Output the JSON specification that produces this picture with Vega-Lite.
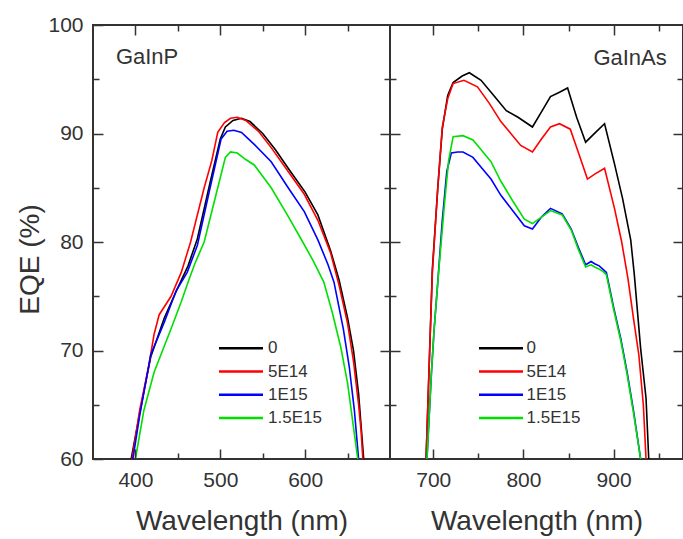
{
  "$schema": "https://vega.github.io/schema/vega-lite/v6.json",
  "background": "white",
  "padding": {"left": 15, "top": 13, "right": 1, "bottom": 5},
  "spacing": 0,
  "bounds": "flush",
  "config": {
    "font": "Liberation Sans",
    "view": {"stroke": "#333", "strokeWidth": 2},
    "axis": {
      "labelColor": "#333", "titleColor": "#333", "labelFont": "Liberation Sans", "titleFont": "Liberation Sans",
      "labelFontSize": 21, "titleFontSize": 28, "titleFontWeight": "normal",
      "labelOverlap": false, "labelFlush": false
    },
    "text": {"font": "Liberation Sans"}
  },
  "datasets": {
    "gainp": [
      {"w":395,"e":60,"d":"0"},{"w":405,"e":64.2,"d":"0"},{"w":418,"e":69.4,"d":"0"},{"w":434,"e":73,"d":"0"},{"w":450,"e":75.8,"d":"0"},{"w":462,"e":77.8,"d":"0"},{"w":473,"e":80.3,"d":"0"},{"w":488,"e":85.5,"d":"0"},{"w":500,"e":89.5,"d":"0"},{"w":506,"e":90.6,"d":"0"},{"w":515,"e":91.2,"d":"0"},{"w":525,"e":91.4,"d":"0"},{"w":535,"e":91.1,"d":"0"},{"w":550,"e":90,"d":"0"},{"w":565,"e":88.5,"d":"0"},{"w":580,"e":86.8,"d":"0"},{"w":600,"e":84.6,"d":"0"},{"w":615,"e":82.5,"d":"0"},{"w":630,"e":79.2,"d":"0"},{"w":640,"e":76.5,"d":"0"},{"w":650,"e":73,"d":"0"},{"w":657,"e":70,"d":"0"},{"w":663,"e":66,"d":"0"},{"w":667,"e":62,"d":"0"},{"w":669,"e":60,"d":"0"},
      {"w":396,"e":60,"d":"5E14"},{"w":405,"e":64.5,"d":"5E14"},{"w":416,"e":68.7,"d":"5E14"},{"w":422,"e":71.5,"d":"5E14"},{"w":428,"e":73.3,"d":"5E14"},{"w":442,"e":75,"d":"5E14"},{"w":454,"e":77.2,"d":"5E14"},{"w":465,"e":80,"d":"5E14"},{"w":481,"e":85,"d":"5E14"},{"w":490,"e":87.5,"d":"5E14"},{"w":497,"e":90.1,"d":"5E14"},{"w":505,"e":91,"d":"5E14"},{"w":512,"e":91.4,"d":"5E14"},{"w":520,"e":91.5,"d":"5E14"},{"w":530,"e":91.2,"d":"5E14"},{"w":545,"e":90.2,"d":"5E14"},{"w":560,"e":88.7,"d":"5E14"},{"w":580,"e":86.5,"d":"5E14"},{"w":599,"e":84.4,"d":"5E14"},{"w":615,"e":82,"d":"5E14"},{"w":630,"e":79,"d":"5E14"},{"w":640,"e":76,"d":"5E14"},{"w":650,"e":72.5,"d":"5E14"},{"w":657,"e":69,"d":"5E14"},{"w":663,"e":65,"d":"5E14"},{"w":666,"e":62.5,"d":"5E14"},{"w":668,"e":60,"d":"5E14"},
      {"w":397,"e":60,"d":"1E15"},{"w":405,"e":64,"d":"1E15"},{"w":418,"e":69.6,"d":"1E15"},{"w":434,"e":72.6,"d":"1E15"},{"w":448,"e":75.5,"d":"1E15"},{"w":461,"e":77.2,"d":"1E15"},{"w":473,"e":79.7,"d":"1E15"},{"w":488,"e":85,"d":"1E15"},{"w":501,"e":89.5,"d":"1E15"},{"w":508,"e":90.2,"d":"1E15"},{"w":516,"e":90.3,"d":"1E15"},{"w":525,"e":90.1,"d":"1E15"},{"w":540,"e":89,"d":"1E15"},{"w":560,"e":87.4,"d":"1E15"},{"w":580,"e":85,"d":"1E15"},{"w":599,"e":82.8,"d":"1E15"},{"w":615,"e":80.2,"d":"1E15"},{"w":627,"e":77.9,"d":"1E15"},{"w":634,"e":76.3,"d":"1E15"},{"w":645,"e":72,"d":"1E15"},{"w":652,"e":68.5,"d":"1E15"},{"w":658,"e":64.5,"d":"1E15"},{"w":663,"e":60,"d":"1E15"},
      {"w":400,"e":60,"d":"1.5E15"},{"w":410,"e":64.5,"d":"1.5E15"},{"w":422,"e":68,"d":"1.5E15"},{"w":442,"e":72,"d":"1.5E15"},{"w":454,"e":74.5,"d":"1.5E15"},{"w":462,"e":76.3,"d":"1.5E15"},{"w":470,"e":78,"d":"1.5E15"},{"w":481,"e":80,"d":"1.5E15"},{"w":497,"e":85,"d":"1.5E15"},{"w":506,"e":87.8,"d":"1.5E15"},{"w":512,"e":88.3,"d":"1.5E15"},{"w":520,"e":88.2,"d":"1.5E15"},{"w":530,"e":87.6,"d":"1.5E15"},{"w":540,"e":87.1,"d":"1.5E15"},{"w":560,"e":85,"d":"1.5E15"},{"w":579,"e":82.5,"d":"1.5E15"},{"w":595,"e":80.3,"d":"1.5E15"},{"w":610,"e":78.2,"d":"1.5E15"},{"w":622,"e":76.3,"d":"1.5E15"},{"w":632,"e":73.5,"d":"1.5E15"},{"w":642,"e":70.3,"d":"1.5E15"},{"w":650,"e":67,"d":"1.5E15"},{"w":656,"e":63.5,"d":"1.5E15"},{"w":662,"e":60,"d":"1.5E15"}
    ],
    "gainas": [
      {"w":692,"e":60,"d":"0"},{"w":696,"e":70,"d":"0"},{"w":699,"e":77.5,"d":"0"},{"w":705,"e":85,"d":"0"},{"w":710,"e":90.4,"d":"0"},{"w":716,"e":93.5,"d":"0"},{"w":722,"e":94.7,"d":"0"},{"w":732,"e":95.3,"d":"0"},{"w":740,"e":95.6,"d":"0"},{"w":753,"e":94.9,"d":"0"},{"w":768,"e":93.4,"d":"0"},{"w":781,"e":92.1,"d":"0"},{"w":794,"e":91.5,"d":"0"},{"w":810,"e":90.6,"d":"0"},{"w":820,"e":92,"d":"0"},{"w":830,"e":93.4,"d":"0"},{"w":840,"e":93.8,"d":"0"},{"w":849,"e":94.2,"d":"0"},{"w":859,"e":91.5,"d":"0"},{"w":869,"e":89.2,"d":"0"},{"w":880,"e":90.1,"d":"0"},{"w":890,"e":90.9,"d":"0"},{"w":901,"e":87.2,"d":"0"},{"w":910,"e":84,"d":"0"},{"w":919,"e":80.2,"d":"0"},{"w":923,"e":77,"d":"0"},{"w":930,"e":70.2,"d":"0"},{"w":936,"e":65.6,"d":"0"},{"w":939,"e":60,"d":"0"},
      {"w":692,"e":60,"d":"5E14"},{"w":696,"e":70,"d":"5E14"},{"w":699,"e":77.2,"d":"5E14"},{"w":705,"e":85,"d":"5E14"},{"w":710,"e":90.6,"d":"5E14"},{"w":716,"e":93.2,"d":"5E14"},{"w":722,"e":94.6,"d":"5E14"},{"w":734,"e":94.9,"d":"5E14"},{"w":749,"e":94.3,"d":"5E14"},{"w":762,"e":92.8,"d":"5E14"},{"w":775,"e":91.1,"d":"5E14"},{"w":786,"e":90,"d":"5E14"},{"w":797,"e":88.9,"d":"5E14"},{"w":810,"e":88.3,"d":"5E14"},{"w":820,"e":89.5,"d":"5E14"},{"w":830,"e":90.6,"d":"5E14"},{"w":840,"e":90.9,"d":"5E14"},{"w":852,"e":90.4,"d":"5E14"},{"w":862,"e":88,"d":"5E14"},{"w":871,"e":85.8,"d":"5E14"},{"w":880,"e":86.3,"d":"5E14"},{"w":890,"e":86.8,"d":"5E14"},{"w":901,"e":83.1,"d":"5E14"},{"w":909,"e":80,"d":"5E14"},{"w":916,"e":76.6,"d":"5E14"},{"w":922,"e":73,"d":"5E14"},{"w":928,"e":69.6,"d":"5E14"},{"w":933,"e":65,"d":"5E14"},{"w":936,"e":60,"d":"5E14"},
      {"w":693,"e":60,"d":"1E15"},{"w":698,"e":68,"d":"1E15"},{"w":701,"e":72,"d":"1E15"},{"w":705,"e":76.3,"d":"1E15"},{"w":710,"e":82,"d":"1E15"},{"w":715,"e":86.5,"d":"1E15"},{"w":720,"e":88.2,"d":"1E15"},{"w":727,"e":88.3,"d":"1E15"},{"w":733,"e":88.3,"d":"1E15"},{"w":744,"e":87.8,"d":"1E15"},{"w":754,"e":86.8,"d":"1E15"},{"w":764,"e":85.8,"d":"1E15"},{"w":775,"e":84.3,"d":"1E15"},{"w":788,"e":82.9,"d":"1E15"},{"w":801,"e":81.5,"d":"1E15"},{"w":810,"e":81.2,"d":"1E15"},{"w":820,"e":82.3,"d":"1E15"},{"w":830,"e":83.1,"d":"1E15"},{"w":843,"e":82.6,"d":"1E15"},{"w":853,"e":81.2,"d":"1E15"},{"w":861,"e":79.5,"d":"1E15"},{"w":869,"e":77.9,"d":"1E15"},{"w":875,"e":78.2,"d":"1E15"},{"w":879,"e":78,"d":"1E15"},{"w":884,"e":77.8,"d":"1E15"},{"w":888,"e":77.5,"d":"1E15"},{"w":892,"e":77.2,"d":"1E15"},{"w":900,"e":74,"d":"1E15"},{"w":908,"e":71.1,"d":"1E15"},{"w":915,"e":68,"d":"1E15"},{"w":922,"e":64.5,"d":"1E15"},{"w":930,"e":60,"d":"1E15"},
      {"w":693,"e":60,"d":"1.5E15"},{"w":698,"e":68,"d":"1.5E15"},{"w":701,"e":72,"d":"1.5E15"},{"w":705,"e":76.3,"d":"1.5E15"},{"w":712,"e":83.1,"d":"1.5E15"},{"w":717,"e":87.5,"d":"1.5E15"},{"w":722,"e":89.7,"d":"1.5E15"},{"w":733,"e":89.8,"d":"1.5E15"},{"w":744,"e":89.4,"d":"1.5E15"},{"w":754,"e":88.4,"d":"1.5E15"},{"w":764,"e":87.4,"d":"1.5E15"},{"w":775,"e":85.6,"d":"1.5E15"},{"w":788,"e":83.8,"d":"1.5E15"},{"w":801,"e":82.1,"d":"1.5E15"},{"w":810,"e":81.7,"d":"1.5E15"},{"w":820,"e":82.3,"d":"1.5E15"},{"w":830,"e":82.9,"d":"1.5E15"},{"w":843,"e":82.5,"d":"1.5E15"},{"w":853,"e":81.1,"d":"1.5E15"},{"w":861,"e":79.3,"d":"1.5E15"},{"w":869,"e":77.7,"d":"1.5E15"},{"w":875,"e":77.9,"d":"1.5E15"},{"w":879,"e":77.7,"d":"1.5E15"},{"w":884,"e":77.5,"d":"1.5E15"},{"w":888,"e":77.3,"d":"1.5E15"},{"w":892,"e":77,"d":"1.5E15"},{"w":900,"e":73.8,"d":"1.5E15"},{"w":908,"e":70.9,"d":"1.5E15"},{"w":915,"e":67.8,"d":"1.5E15"},{"w":922,"e":64.3,"d":"1.5E15"},{"w":930,"e":60,"d":"1.5E15"}
    ],
    "labels": [{"name": "GaInP"}, {"name": "GaInAs"}]
  },
  "hconcat": [
    {
      "width": 297,
      "height": 434,
      "layer": [
        {
          "data": {"name": "gainp"},
          "mark": {"type": "line", "strokeWidth": 1.6, "clip": true},
          "encoding": {
            "x": {"field": "w", "type": "quantitative", "scale": {"domain": [350, 700], "nice": false, "zero": false},
              "axis": {"orient": "bottom", "values": [400, 500, 600], "tickSize": 10, "offset": -10, "tickColor": "#333", "tickWidth": 1.5, "domain": false, "gridOpacity": 0, "zindex": 1,
                "labelPadding": 10, "title": "Wavelength (nm)", "titleY": 80, "titleBaseline": "alphabetic"}},
            "y": {"field": "e", "type": "quantitative", "scale": {"domain": [60, 100], "nice": false, "zero": false},
              "axis": {"orient": "left", "values": [60, 70, 80, 90, 100], "tickSize": 10, "offset": -10, "tickColor": "#333", "tickWidth": 1.5, "domain": false, "gridOpacity": 0, "zindex": 1,
                "labelPadding": 10, "title": "EQE (%)", "titleX": -65, "titleY": 234, "titleBaseline": "alphabetic"}},
            "color": {"field": "d", "type": "nominal",
              "scale": {"domain": ["0", "5E14", "1E15", "1.5E15"], "range": ["#000000", "#ff0000", "#0000ff", "#00e000"]},
              "legend": {"orient": "none", "legendX": 139.5, "legendY": 314.7, "title": null, "padding": 0,
                "symbolType": "M-4,0H4", "symbolSize": 121, "symbolStrokeWidth": 2.5,
                "labelFontSize": 17, "labelFont": "Liberation Sans", "labelColor": "#333", "labelOffset": 18.5, "rowPadding": 5.3}}
          }
        },
        {
          "data": {"name": "labels"},
          "transform": [{"filter": "datum.name === 'GaInP'"}],
          "mark": {"type": "text", "align": "left", "baseline": "alphabetic", "fontSize": 22, "color": "#333"},
          "encoding": {
            "x": {"datum": 377, "type": "quantitative",
              "axis": {"orient": "top", "values": [400, 500, 600], "labels": false, "title": null, "tickSize": 10, "offset": -10, "tickColor": "#333", "tickWidth": 1.5, "domain": false, "gridOpacity": 0, "zindex": 1}},
            "y": {"datum": 96.4, "type": "quantitative",
              "axis": {"orient": "right", "values": [70, 80, 90], "labels": false, "title": null, "tickSize": 10, "offset": -10, "tickColor": "#333", "tickWidth": 1.5, "domain": false, "gridOpacity": 0, "zindex": 1}},
            "text": {"field": "name"}
          }
        },
        {
          "data": {"name": "labels"},
          "transform": [{"filter": "datum.name === 'GaInP'"}],
          "mark": {"type": "point", "opacity": 0},
          "encoding": {
            "x": {"datum": 377, "type": "quantitative",
              "axis": {"orient": "bottom", "values": [450, 550, 650], "labels": false, "title": null, "tickSize": 6, "offset": -6, "tickColor": "#333", "tickWidth": 1.5, "domain": false, "gridOpacity": 0, "zindex": 1}},
            "y": {"datum": 96.4, "type": "quantitative",
              "axis": {"orient": "left", "values": [65, 75, 85, 95], "labels": false, "title": null, "tickSize": 6, "offset": -6, "tickColor": "#333", "tickWidth": 1.5, "domain": false, "gridOpacity": 0, "zindex": 1}}
          }
        },
        {
          "data": {"name": "labels"},
          "transform": [{"filter": "datum.name === 'GaInP'"}],
          "mark": {"type": "point", "opacity": 0},
          "encoding": {
            "x": {"datum": 377, "type": "quantitative",
              "axis": {"orient": "top", "values": [450, 550, 650], "labels": false, "title": null, "tickSize": 6, "offset": -6, "tickColor": "#333", "tickWidth": 1.5, "domain": false, "gridOpacity": 0, "zindex": 1}},
            "y": {"datum": 96.4, "type": "quantitative",
              "axis": {"orient": "right", "values": [65, 75, 85, 95], "labels": false, "title": null, "tickSize": 6, "offset": -6, "tickColor": "#333", "tickWidth": 1.5, "domain": false, "gridOpacity": 0, "zindex": 1}}
          }
        }
      ],
      "resolve": {"axis": {"x": "independent", "y": "independent"}}
    },
    {
      "width": 293,
      "height": 434,
      "layer": [
        {
          "data": {"name": "gainas"},
          "mark": {"type": "line", "strokeWidth": 1.6, "clip": true},
          "encoding": {
            "x": {"field": "w", "type": "quantitative", "scale": {"domain": [652, 977], "nice": false, "zero": false},
              "axis": {"orient": "bottom", "values": [700, 800, 900], "tickSize": 10, "offset": -10, "tickColor": "#333", "tickWidth": 1.5, "domain": false, "gridOpacity": 0, "zindex": 1,
                "labelPadding": 10, "title": "Wavelength (nm)", "titleY": 80, "titleBaseline": "alphabetic"}},
            "y": {"field": "e", "type": "quantitative", "scale": {"domain": [60, 100], "nice": false, "zero": false},
              "axis": {"orient": "left", "values": [70, 80, 90], "labels": false, "title": null, "tickSize": 10, "offset": -10, "tickColor": "#333", "tickWidth": 1.5, "domain": false, "gridOpacity": 0, "zindex": 1}},
            "color": {"field": "d", "type": "nominal",
              "scale": {"domain": ["0", "5E14", "1E15", "1.5E15"], "range": ["#000000", "#ff0000", "#0000ff", "#00e000"]},
              "legend": {"orient": "none", "legendX": 102.5, "legendY": 314.7, "title": null, "padding": 0,
                "symbolType": "M-4,0H4", "symbolSize": 121, "symbolStrokeWidth": 2.5,
                "labelFontSize": 17, "labelFont": "Liberation Sans", "labelColor": "#333", "labelOffset": 17, "rowPadding": 5.3}}
          }
        },
        {
          "data": {"name": "labels"},
          "transform": [{"filter": "datum.name === 'GaInAs'"}],
          "mark": {"type": "text", "align": "right", "baseline": "alphabetic", "fontSize": 22, "color": "#333"},
          "encoding": {
            "x": {"datum": 959, "type": "quantitative",
              "axis": {"orient": "top", "values": [700, 800, 900], "labels": false, "title": null, "tickSize": 10, "offset": -10, "tickColor": "#333", "tickWidth": 1.5, "domain": false, "gridOpacity": 0, "zindex": 1}},
            "y": {"datum": 96.3, "type": "quantitative",
              "axis": {"orient": "right", "values": [70, 80, 90], "labels": false, "title": null, "tickSize": 10, "offset": -10, "tickColor": "#333", "tickWidth": 1.5, "domain": false, "gridOpacity": 0, "zindex": 1}},
            "text": {"field": "name"}
          }
        },
        {
          "data": {"name": "labels"},
          "transform": [{"filter": "datum.name === 'GaInAs'"}],
          "mark": {"type": "point", "opacity": 0},
          "encoding": {
            "x": {"datum": 959, "type": "quantitative",
              "axis": {"orient": "bottom", "values": [750, 850, 950], "labels": false, "title": null, "tickSize": 6, "offset": -6, "tickColor": "#333", "tickWidth": 1.5, "domain": false, "gridOpacity": 0, "zindex": 1}},
            "y": {"datum": 96.3, "type": "quantitative",
              "axis": {"orient": "left", "values": [65, 75, 85, 95], "labels": false, "title": null, "tickSize": 6, "offset": -6, "tickColor": "#333", "tickWidth": 1.5, "domain": false, "gridOpacity": 0, "zindex": 1}}
          }
        },
        {
          "data": {"name": "labels"},
          "transform": [{"filter": "datum.name === 'GaInAs'"}],
          "mark": {"type": "point", "opacity": 0},
          "encoding": {
            "x": {"datum": 959, "type": "quantitative",
              "axis": {"orient": "top", "values": [750, 850, 950], "labels": false, "title": null, "tickSize": 6, "offset": -6, "tickColor": "#333", "tickWidth": 1.5, "domain": false, "gridOpacity": 0, "zindex": 1}},
            "y": {"datum": 96.3, "type": "quantitative",
              "axis": {"orient": "right", "values": [65, 75, 85, 95], "labels": false, "title": null, "tickSize": 6, "offset": -6, "tickColor": "#333", "tickWidth": 1.5, "domain": false, "gridOpacity": 0, "zindex": 1}}
          }
        }
      ],
      "resolve": {"axis": {"x": "independent", "y": "independent"}}
    }
  ],
  "resolve": {"scale": {"color": "independent", "x": "independent", "y": "independent"}}
}
